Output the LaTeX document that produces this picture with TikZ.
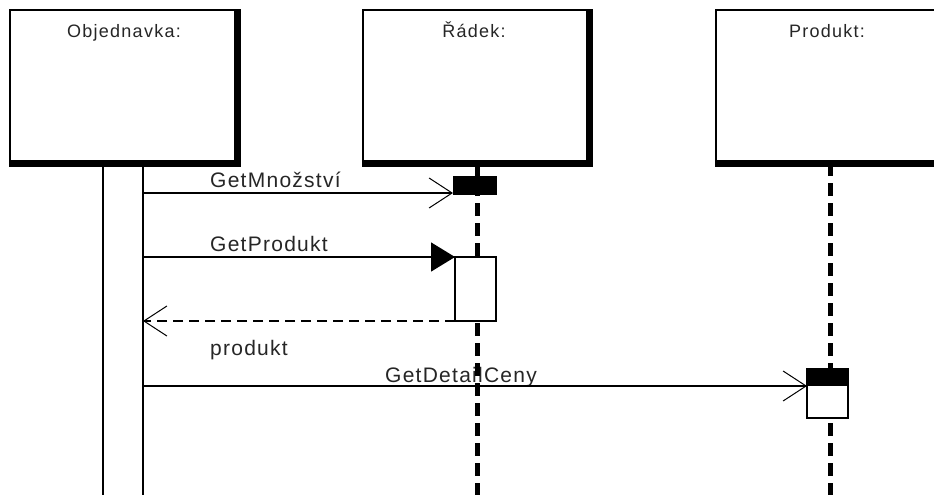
\documentclass[tikz,border=0pt]{standalone}
\usepackage{fontspec}
\setmainfont{Liberation Sans}
\newfontfamily\msgfont[LetterSpace=6]{Liberation Sans}
\newfontfamily\boxfont[LetterSpace=7]{Liberation Sans}
\usetikzlibrary{arrows.meta}
\begin{document}
\begin{tikzpicture}[x=1pt,y=-1pt,
  hdrbox/.style={draw=black, fill=white, line width=1.5pt, rectangle, inner sep=0pt, outer sep=0pt},
  boxlbl/.style={font=\boxfont\fontsize{18}{20}\selectfont, text=black!85, inner sep=0pt, anchor=base},
  msglbl/.style={font=\msgfont\fontsize{21}{24}\selectfont, text=black!85, inner sep=0pt, anchor=base west},
  act/.style={draw=black, fill=white, line width=1.5pt, rectangle, inner sep=0pt, outer sep=0pt},
  actblack/.style={draw=black, fill=black, line width=1pt, rectangle, inner sep=0pt, outer sep=0pt},
  lifeline/.style={line width=5pt, dash pattern=on 13pt off 7pt},
  msg/.style={line width=1.5pt},
  openhead/.style={-{Straight Barb[length=23pt,width=30pt,line width=1pt]}},
  filledhead/.style={-{Triangle[length=24pt,width=29pt]}},
]
\useasboundingbox (0,0) rectangle (934,495);
\clip (0,0) rectangle (934,495);
\fill[white] (0,0) rectangle (934,495);

% activation bar of Objednavka
\node[act, minimum width=40pt, minimum height=340pt] (oa) at (123,333) {};

% message labels
\node[msglbl] (l1) at (210,187) {GetMnožství};
\node[msglbl] (l2) at (210,251) {GetProdukt};
\node[msglbl] (l3) at (210,355) {produkt};
\node[msglbl] (l4) at (385,382) {GetDetailCeny};

% header boxes (positions)
\coordinate (y1) at (0,193);
\coordinate (y4) at (0,386);

% activation boxes
\node[actblack, minimum width=43pt, minimum height=18pt] (ra1) at (474.5,185) {};
\node[act, minimum width=41pt, minimum height=64pt] (ra2) at (475.5,289) {};
\node[act, minimum width=41pt, minimum height=49pt] (pa) at (827.5,393.5) {};

% messages
\draw[msg, openhead] (oa.east |- y1) -- (ra1.west |- y1);
\draw[msg, filledhead] (oa.east |- ra2.north) -- (ra2.north west);
\draw[msg, openhead, dash pattern=on 10pt off 6pt] (ra2.south west) -- (oa.east |- ra2.south);
\draw[msg, openhead] (oa.east |- y4) -- (pa.west |- y4);

% header boxes
\node[hdrbox, minimum width=230pt, minimum height=156pt] (obj) at (125,88) {};
\node[hdrbox, minimum width=229pt, minimum height=156pt] (rad) at (477.5,88) {};
\node[hdrbox, minimum width=229pt, minimum height=156pt] (prod) at (830.5,88) {};
\foreach \b in {obj,rad,prod}{
  \fill[black] (\b.north east) -- (\b.south east) -- (\b.south west)
    -- ([yshift=6pt]\b.south west) -- ([xshift=-6pt,yshift=6pt]\b.south east)
    -- ([xshift=-6pt]\b.north east) -- cycle;
}
\node[boxlbl] (objl) at (124,38) {Objednavka:};
\node[boxlbl] (radl) at (474,38) {Řádek:};
\node[boxlbl] (prodl) at (827,38) {Produkt:};

% lifelines
\coordinate (rend) at (477,500);
\coordinate (pend) at (830,500);
\draw[lifeline, dash phase=3pt] ([xshift=-0.5pt]rad.south) -- (rend);
\draw[lifeline, dash phase=3pt] ([xshift=-0.5pt]prod.south) -- (pend);

% redraw activation boxes on top of lifelines
\node[actblack, minimum width=43pt, minimum height=18pt] (ra1b) at (474.5,185) {};
\node[act, minimum width=41pt, minimum height=64pt] (ra2b) at (475.5,289) {};
\node[act, minimum width=41pt, minimum height=49pt] (pab) at (827.5,393.5) {};
\fill[black] (pab.north west) rectangle ([yshift=-17pt]pab.north east);
\end{tikzpicture}
\end{document}
